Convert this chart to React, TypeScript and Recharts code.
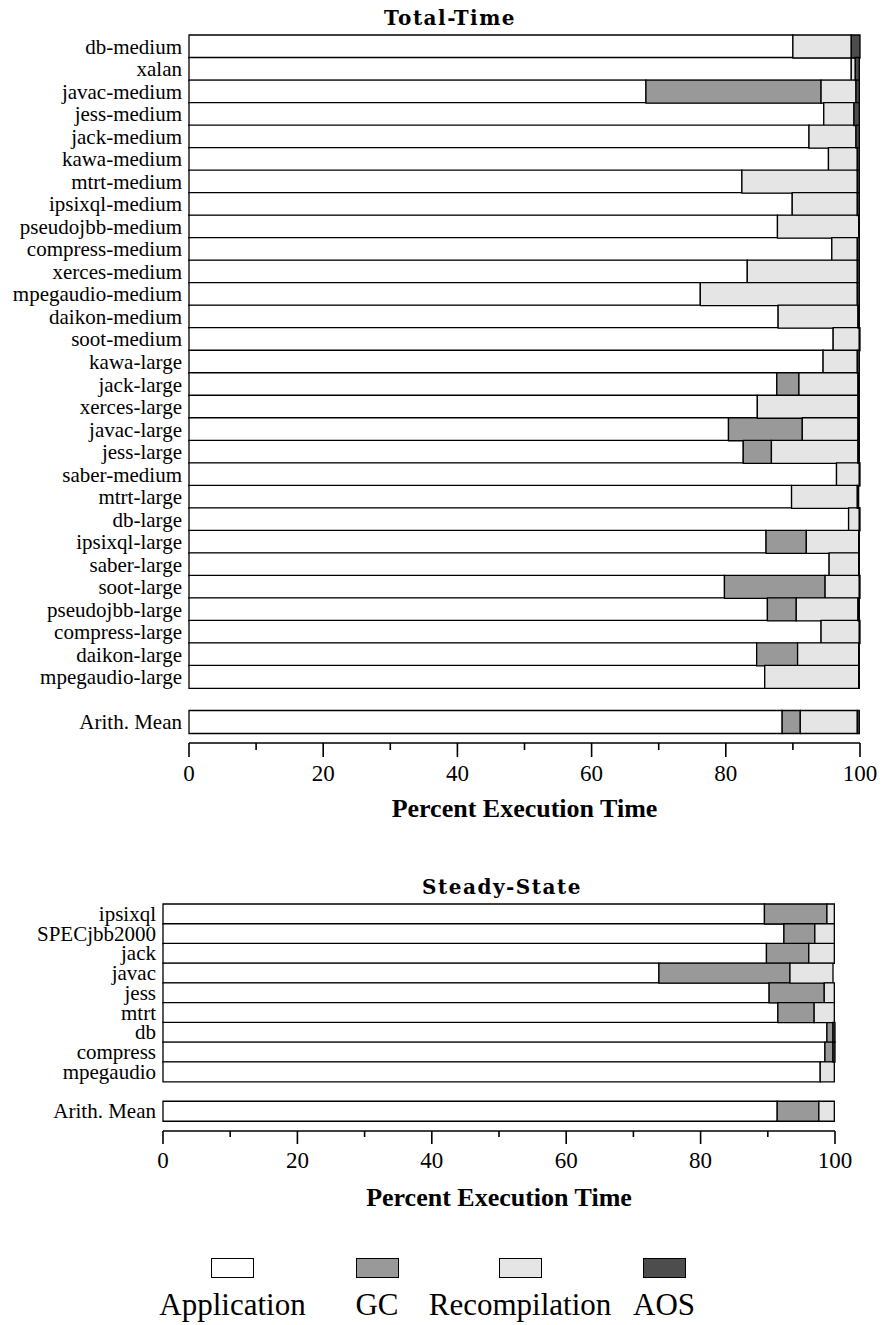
import React from 'react';
import { BarChart, Bar, XAxis, YAxis } from 'recharts';

// ---------- Total-Time data ('' = spacer row) ----------
const totalCategories = [
  'db-medium', 'xalan', 'javac-medium', 'jess-medium', 'jack-medium', 'kawa-medium',
  'mtrt-medium', 'ipsixql-medium', 'pseudojbb-medium', 'compress-medium', 'xerces-medium',
  'mpegaudio-medium', 'daikon-medium', 'soot-medium', 'kawa-large', 'jack-large',
  'xerces-large', 'javac-large', 'jess-large', 'saber-medium', 'mtrt-large', 'db-large',
  'ipsixql-large', 'saber-large', 'soot-large', 'pseudojbb-large', 'compress-large',
  'daikon-large', 'mpegaudio-large', '', 'Arith. Mean',
];
const totalApplication = [
  90.0, 98.7, 68.1, 94.6, 92.4, 95.3, 82.4, 89.9, 87.7, 95.8, 83.2, 76.2, 87.8, 96.0, 94.5,
  87.6, 84.7, 80.4, 82.6, 96.5, 89.8, 98.3, 86.0, 95.4, 79.8, 86.2, 94.2, 84.6, 85.8, null, 88.4,
];
const totalGC = [
  0, 0, 26.1, 0, 0, 0, 0, 0, 0, 0, 0, 0, 0, 0, 0,
  3.3, 0, 11.0, 4.2, 0, 0, 0, 6.0, 0, 15.0, 4.3, 0, 6.1, 0, null, 2.7,
];
const totalRecompilation = [
  8.7, 0.6, 5.2, 4.5, 7.0, 4.3, 17.2, 9.7, 12.1, 3.8, 16.4, 23.4, 11.9, 3.9, 5.1,
  8.8, 15.0, 8.3, 12.9, 3.4, 9.8, 1.6, 7.8, 4.4, 5.1, 9.2, 5.7, 9.1, 14.0, null, 8.5,
];
const totalAOS = [
  1.3, 0.6, 0.5, 0.8, 0.5, 0.3, 0.3, 0.3, 0.1, 0.3, 0.3, 0.3, 0.2, 0.1, 0.3,
  0.2, 0.2, 0.2, 0.2, 0.1, 0.2, 0.1, 0.1, 0.1, 0.1, 0.2, 0.1, 0.1, 0.1, null, 0.3,
];

// ---------- Steady-State data ----------
const steadyCategories = [
  'ipsixql', 'SPECjbb2000', 'jack', 'javac', 'jess', 'mtrt', 'db', 'compress', 'mpegaudio', '', 'Arith. Mean',
];
const steadyApplication = [89.5, 92.4, 89.8, 73.8, 90.2, 91.5, 98.8, 98.5, 97.8, null, 91.4];
const steadyGC = [9.3, 4.6, 6.3, 19.5, 8.2, 5.4, 0.9, 1.2, 0, null, 6.2];
const steadyRecompilation = [1.1, 2.9, 3.8, 6.4, 1.5, 3.0, 0, 0, 2.1, null, 2.3];
const steadyAOS = [0, 0, 0, 0, 0, 0, 0.3, 0.3, 0, null, 0];

// ---------- series / axis ----------
const seriesKeys = ['app', 'gc', 'rec', 'aos'];
const seriesNames = ['Application', 'GC', 'Recompilation', 'AOS'];
const seriesColors = ['#ffffff', '#999999', '#e5e5e5', '#4d4d4d'];
const xTicks = [0, 10, 20, 30, 40, 50, 60, 70, 80, 90, 100];
const legendCenters = [232.5, 377, 520, 664];

const SERIF = '"Liberation Serif", "Times New Roman", serif';

function buildRows(cats: string[], a: any[], g: any[], r: any[], s: any[]) {
  return cats.map((name, i) => ({ name, app: a[i], gc: g[i], rec: r[i], aos: s[i] }));
}

const totalRows = buildRows(totalCategories, totalApplication, totalGC, totalRecompilation, totalAOS);
const steadyRows = buildRows(steadyCategories, steadyApplication, steadyGC, steadyRecompilation, steadyAOS);

const makeYTick = (fontSize: number, dy: number) => (props: any) => {
  const { x, y, payload } = props;
  if (!payload || !payload.value) return null;
  return (
    <text x={x} y={y + dy} textAnchor="end" fontFamily={SERIF} fontSize={fontSize} fill="#000">
      {payload.value}
    </text>
  );
};

const makeXTick = (majorLen: number, minorLen: number, baseline: number) => (props: any) => {
  const { x, y, payload } = props;
  const isMajor = payload.value % 20 === 0;
  return (
    <g>
      <line x1={x} x2={x} y1={y} y2={y + (isMajor ? majorLen : minorLen)} stroke="#000" strokeWidth={1.6} />
      {isMajor && (
        <text x={x} y={y + baseline} textAnchor="middle" fontFamily={SERIF} fontSize={23} fill="#000">
          {payload.value}
        </text>
      )}
    </g>
  );
};

function StackBars() {
  return seriesKeys.map((k, i) => (
    <Bar
      key={k}
      dataKey={k}
      name={seriesNames[i]}
      stackId="s"
      fill={seriesColors[i]}
      stroke="#000"
      strokeWidth={1.3}
      isAnimationActive={false}
    />
  ));
}

const axisLabelStyle = { fontFamily: SERIF, fontSize: 26, fontWeight: 'bold', fill: '#000' } as any;

export default function App() {
  return (
    <div style={{ position: 'absolute', left: 0, top: 0, width: 883, height: 1325, background: '#fff', fontFamily: SERIF }}>
      <div
        style={{
          position: 'absolute', left: 450, top: 7, transform: 'translateX(-50%)', whiteSpace: 'nowrap',
          fontFamily: '"DejaVu Serif", serif', fontWeight: 'bold', fontSize: 20, lineHeight: '22px', letterSpacing: 1.5,
        }}
      >
        Total-Time
      </div>
      <div style={{ position: 'absolute', left: 0, top: 0 }}>
        <BarChart
          width={883}
          height={830}
          data={totalRows}
          layout="vertical"
          barCategoryGap={0}
          margin={{ top: 35, right: 23, left: 0, bottom: 7 }}
        >
          <XAxis
            type="number"
            domain={[0, 100]}
            ticks={xTicks}
            interval={0}
            tickLine={false}
            tickSize={0}
            tickMargin={0}
            axisLine={{ stroke: '#000', strokeWidth: 1.6 }}
            tick={makeXTick(14, 7, 38)}
            height={80}
            label={{ value: 'Percent Execution Time', position: 'insideBottom', offset: 6, style: axisLabelStyle }}
          />
          <YAxis
            type="category"
            dataKey="name"
            width={189}
            interval={0}
            axisLine={false}
            tickLine={false}
            tickSize={6}
            tickMargin={1}
            padding={{ top: 0, bottom: 10 }}
            tick={makeYTick(21, 7.5)}
          />
          {StackBars()}
        </BarChart>
      </div>

      <div
        style={{
          position: 'absolute', left: 502, top: 876, transform: 'translateX(-50%)', whiteSpace: 'nowrap',
          fontFamily: '"DejaVu Serif", serif', fontWeight: 'bold', fontSize: 20, lineHeight: '22px', letterSpacing: 1.5,
        }}
      >
        Steady-State
      </div>
      <div style={{ position: 'absolute', left: 0, top: 840 }}>
        <BarChart
          width={883}
          height={371}
          data={steadyRows}
          layout="vertical"
          barCategoryGap={0}
          margin={{ top: 64, right: 48, left: 0, bottom: 0 }}
        >
          <XAxis
            type="number"
            domain={[0, 100]}
            ticks={xTicks}
            interval={0}
            tickLine={false}
            tickSize={0}
            tickMargin={0}
            axisLine={{ stroke: '#000', strokeWidth: 1.6 }}
            tick={makeXTick(13, 6, 37)}
            height={80}
            label={{ value: 'Percent Execution Time', position: 'insideBottom', offset: 5, style: axisLabelStyle }}
          />
          <YAxis
            type="category"
            dataKey="name"
            width={163}
            interval={0}
            axisLine={false}
            tickLine={false}
            tickSize={6}
            tickMargin={1}
            padding={{ top: 0, bottom: 10 }}
            tick={makeYTick(21, 7)}
          />
          {StackBars()}
        </BarChart>
      </div>

      {seriesNames.map((n, i) => (
        <React.Fragment key={n}>
          <div
            style={{
              position: 'absolute', left: legendCenters[i] - 21.5, top: 1258, width: 43, height: 20,
              boxSizing: 'border-box', border: '1.5px solid #000', background: seriesColors[i],
            }}
          />
          <div
            style={{
              position: 'absolute', left: legendCenters[i], top: 1289, transform: 'translateX(-50%)',
              whiteSpace: 'nowrap', fontFamily: SERIF, fontSize: 31, lineHeight: '31px', color: '#000',
            }}
          >
            {n}
          </div>
        </React.Fragment>
      ))}
    </div>
  );
}
